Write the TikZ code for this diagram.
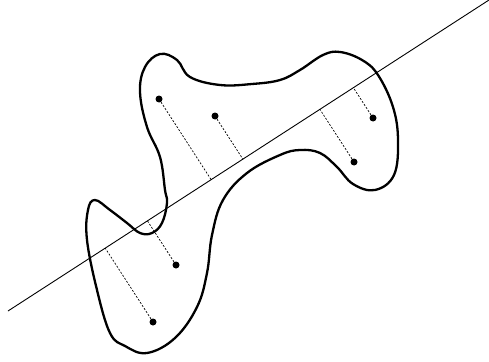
\documentclass[tikz,border=0pt]{standalone}
\usetikzlibrary{calc}

\begin{document}
\begin{tikzpicture}[
  x=1pt,y=-1pt,
  blob/.style={line width=2.3pt,line join=round},
  axis/.style={line width=0.9pt},
  proj/.style={line width=0.7pt,dash pattern=on 2pt off 1.6pt},
  pt/.style={circle,fill=black,inner sep=0pt,minimum size=7pt}
]
  \useasboundingbox (0,0) rectangle (489,361);

  % Outline
  \draw[blob] plot[smooth cycle,tension=0.65] coordinates {
    (160,54) (177,60) (190,77) (220,85) (252,84) (280,80) (300,70) (323,55)
    (340,52) (362,60) (378,75) (393,107) (398,140) (394,175) (375,190)
    (353,184) (337,167) (320,153) (300,150) (280,155) (247,173) (223,200)
    (212,235) (207,273) (197,307) (175,338) (147,353) (125,346) (110,333)
    (97,290) (87,240) (88,210) (95,200) (110,210) (127,223) (140,233)
    (152,233) (162,223) (167,203) (165,190) (160,157) (147,127) (140,92)
    (145,67)};

  % Line
  \coordinate (l0) at (8,311);
  \coordinate (l1) at (489,0);
  \draw[axis] (l0) -- (l1);

  % Points
  \node[pt] (p1) at (159,99) {};
  \node[pt] (p2) at (215,116) {};
  \node[pt] (p3) at (373,118) {};
  \node[pt] (p4) at (354,162) {};
  \node[pt] (p5) at (176,265) {};
  \node[pt] (p6) at (153,322) {};

  % Projections
  \foreach \i in {1,...,6}
    \draw[proj] (p\i) -- ($(l0)!(p\i)!(l1)$);
\end{tikzpicture}
\end{document}
